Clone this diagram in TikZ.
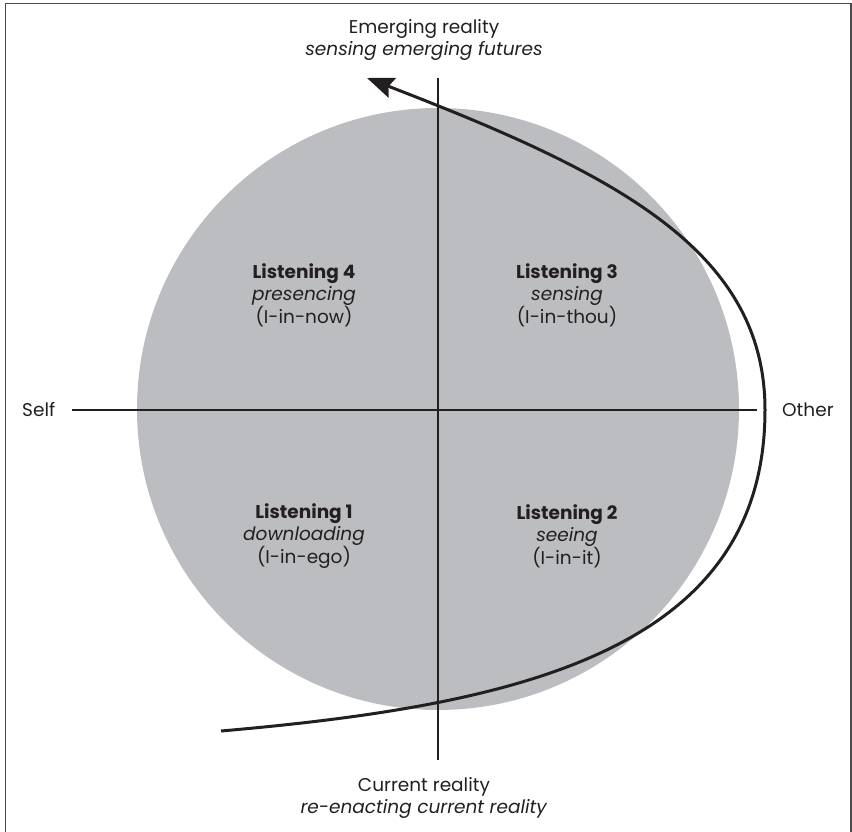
\documentclass[tikz,border=0pt]{standalone}
\usepackage{fontspec}
\setmainfont{Poppins}
\usetikzlibrary{arrows.meta}
\definecolor{discgrey}{HTML}{BCBDC1}
\definecolor{ink}{HTML}{231F20}
\definecolor{framegrey}{HTML}{4A4A4A}
\begin{document}
\begin{tikzpicture}[x=1pt,y=-1pt,
  lbl/.style={font=\fontsize{18.5}{22.5}\selectfont, text=ink, align=center, inner sep=0pt},
  axis/.style={draw=ink, line width=1.3pt},
  flow/.style={draw=ink, line width=3pt, -{Stealth[length=27pt,width=21pt,inset=4pt]}}]
  \useasboundingbox (0,0) rectangle (852,832);
  % outer frame
  \draw[framegrey, line width=1.6pt] (5.5,832) -- (5.5,3.5) -- (851,3.5) -- (851,832);
  % grey disc
  \fill[discgrey] (438,409) circle (301);
  % axes
  \coordinate (top) at (438,78);
  \coordinate (bottom) at (438,760);
  \coordinate (left) at (72,410);
  \coordinate (right) at (757,410);
  \draw[axis] (top) -- (bottom);
  \draw[axis] (left) -- (right);
  % curved arrow
  \coordinate (start) at (221,731);
  \coordinate (turn) at (765,410);
  \coordinate (tip) at (367,78);
  \draw[flow] (start) .. controls (520,705) and (765,650) .. (turn)
              .. controls (765,250) and (616,174) .. (tip);
  % axis labels
  \node[lbl] (emerging) at (424,40) {Emerging reality\\\textit{sensing emerging futures}};
  \node[lbl] (current) at (424,798) {Current reality\\\textit{re-enacting current reality}};
  \node[lbl, anchor=west] (self) at (22,410) {Self};
  \node[lbl, anchor=west] (other) at (782,410) {Other};
  % quadrant labels
  \node[lbl] (l4) at (304,295) {\textbf{Listening 4}\\\textit{presencing}\\(I-in-now)};
  \node[lbl] (l3) at (567,295) {\textbf{Listening 3}\\\textit{sensing}\\(I-in-thou)};
  \node[lbl] (l1) at (304,536) {\textbf{Listening 1}\\\textit{downloading}\\(I-in-ego)};
  \node[lbl] (l2) at (567,536) {\textbf{Listening 2}\\\textit{seeing}\\(I-in-it)};
\end{tikzpicture}
\end{document}
